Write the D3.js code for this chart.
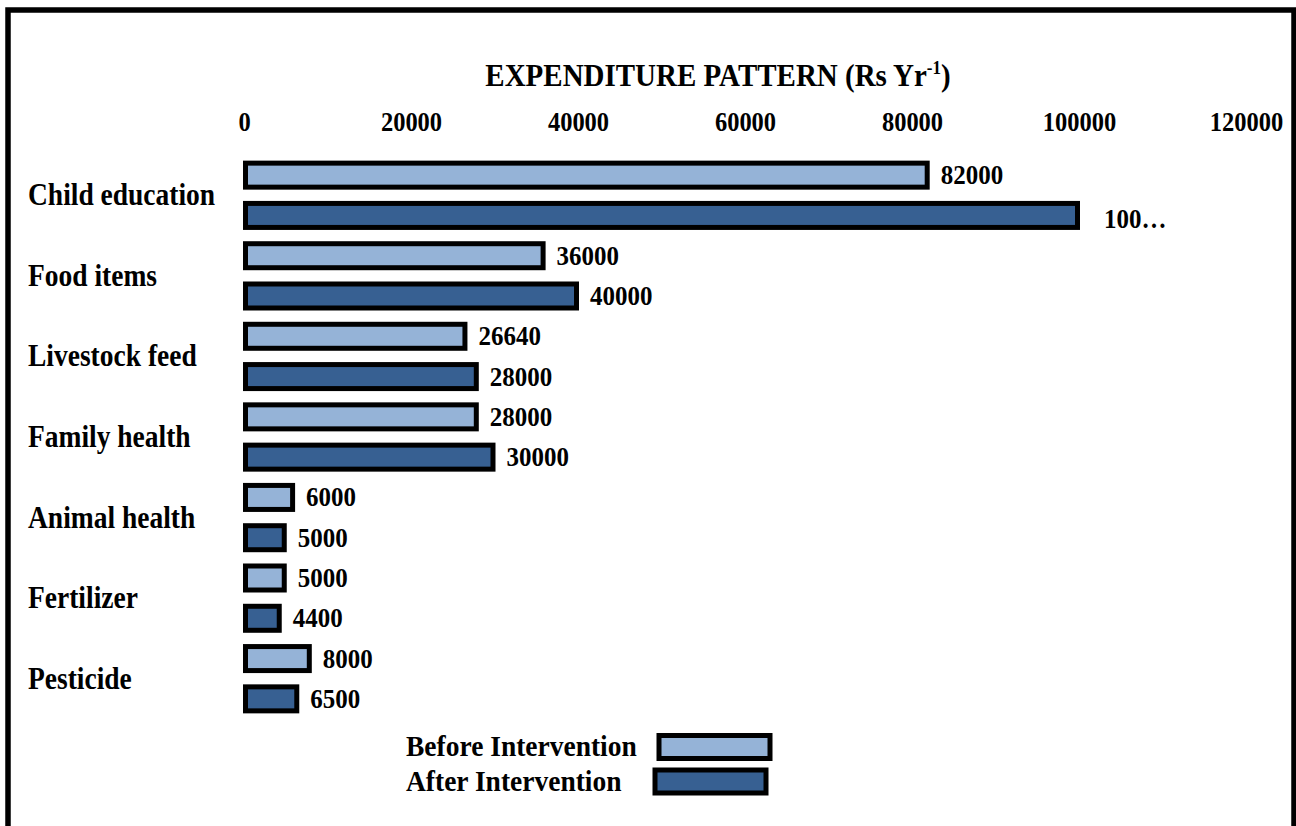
<!DOCTYPE html>
<html>
<head>
<meta charset="utf-8">
<script src="https://cdn.jsdelivr.net/npm/d3@7"></script>
<style>
  body { margin: 0; background: #fff; }
  text { font-family: "Liberation Serif", "Times New Roman", serif; font-weight: bold; fill: #000; }
</style>
</head>
<body>
<script>
const categories = ["Child education", "Food items", "Livestock feed", "Family health",
                    "Animal health", "Fertilizer", "Pesticide"];
const series = ["Before Intervention", "After Intervention"];
const before = [82000, 36000, 26640, 28000, 6000, 5000, 8000];
const after = [100000, 40000, 28000, 30000, 5000, 4400, 6500];
const xTicks = [0, 20000, 40000, 60000, 80000, 100000, 120000];
const colors = ["#95b3d7", "#376092"];

const svg = d3.select("body")
  .append("svg")
  .attr("width", 1296)
  .attr("height", 826);

// the source text is a bit taller than the font, stretch it vertically
function stretch(sel, k) {
  sel.each(function() {
    const t = d3.select(this);
    const tx = +t.attr("x") || 0, ty = +t.attr("y") || 0;
    t.attr("x", null).attr("y", null)
      .attr("transform", `translate(${tx},${ty}) scale(1,${k})`);
  });
}

// outer frame (bottom edge runs off the picture)
svg.append("rect")
  .attr("x", 8)
  .attr("y", 10)
  .attr("width", 1286)
  .attr("height", 830)
  .attr("fill", "none")
  .attr("stroke", "#000")
  .attr("stroke-width", 5.5);

const x = d3.scaleLinear()
  .domain([0, 120000])
  .range([244, 1246]);

const y0 = d3.scaleBand()
  .domain(categories)
  .range([155, 719]);

const y1 = d3.scaleBand()
  .domain(series)
  .range([0, y0.bandwidth()])
  .paddingInner(0.28)
  .paddingOuter(0.14);

// title
const title = svg.append("text")
  .attr("x", 718)
  .attr("y", 86)
  .attr("text-anchor", "middle")
  .style("font-size", "29px")
  .text("EXPENDITURE PATTERN (Rs Yr");
title.append("tspan")
  .attr("dy", -11)
  .style("font-size", "17px")
  .text("-1");
title.append("tspan")
  .attr("dy", 11)
  .text(")");
stretch(title, 1.1);

// top axis
const axis = svg.append("g")
  .attr("transform", "translate(0,131)")
  .call(d3.axisTop(x).tickValues(xTicks).tickSize(0).tickPadding(0).tickFormat(d3.format("d")))
  .call(g => g.select(".domain").remove());
axis.selectAll("text")
  .style("font-size", "24.5px")
  .attr("font-family", null)
  .attr("dy", null)
  .call(stretch, 1.12);

const rows = categories.map((c, i) => ({ cat: c, vals: [before[i], after[i]] }));

const group = svg.selectAll(".cat")
  .data(rows)
  .enter()
  .append("g")
  .attr("class", "cat")
  .attr("transform", d => `translate(0,${y0(d.cat)})`);

const bars = group.selectAll(".bar")
  .data(d => d.vals.map((v, j) => ({ v: v, s: series[j], j: j })))
  .enter();

bars.append("rect")
  .attr("x", x(0) + 1.5)
  .attr("y", d => y1(d.s) + 2.5)
  .attr("width", d => x(d.v) - x(0) - 3)
  .attr("height", y1.bandwidth() - 5)
  .attr("fill", d => colors[d.j])
  .attr("stroke", "#000")
  .attr("stroke-width", 5);

// data labels; the widest one is clipped like in the original
bars.append("text")
  .attr("x", d => x(d.v) + (d.v >= 100000 ? 25 : 12))
  .attr("y", d => y1(d.s) + y1.bandwidth() / 2 + (d.v >= 100000 ? 13 : 9))
  .style("font-size", "25px")
  .text(d => d.v >= 100000 ? String(d.v).slice(0, 3) + "…" : d.v)
  .call(stretch, 1.12);

// category labels
group.append("text")
  .attr("x", 28)
  .attr("y", y0.bandwidth() / 2 + 10)
  .style("font-size", "27.5px")
  .text(d => d.cat)
  .call(stretch, 1.15);

// legend
const legend = svg.selectAll(".legend")
  .data(series)
  .enter()
  .append("g")
  .attr("class", "legend")
  .attr("transform", (d, i) => `translate(0,${733 + i * 34.5})`);

legend.append("text")
  .attr("x", 406)
  .attr("y", 23)
  .style("font-size", "27.5px")
  .text(d => d)
  .call(stretch, 1.1);

legend.append("rect")
  .attr("x", (d, i) => 659 - i * 4)
  .attr("y", 2.5)
  .attr("width", 111)
  .attr("height", 23)
  .attr("fill", (d, i) => colors[i])
  .attr("stroke", "#000")
  .attr("stroke-width", 5);
</script>
</body>
</html>
